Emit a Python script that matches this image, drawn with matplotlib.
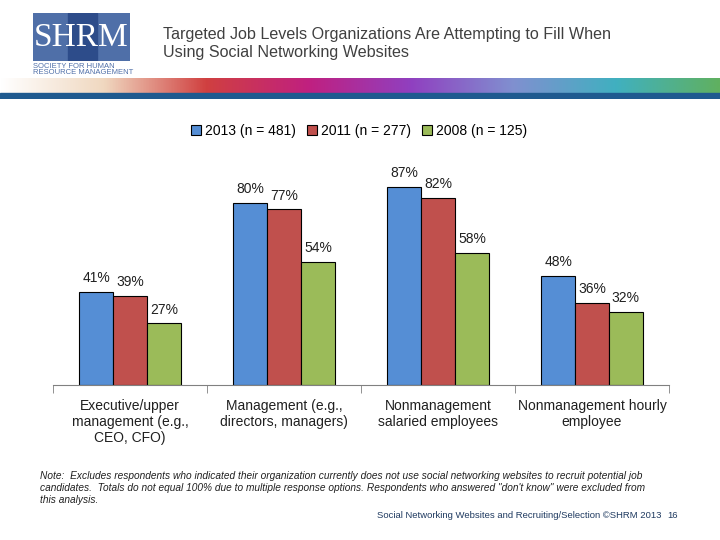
import numpy as np
import matplotlib.pyplot as plt
from matplotlib.patches import Rectangle

plt.rcParams['font.family'] = ['Liberation Sans', 'DejaVu Sans']

categories = ["Executive/upper\nmanagement (e.g.,\nCEO, CFO)",
              "Management (e.g.,\ndirectors, managers)",
              "Nonmanagement\nsalaried employees",
              "Nonmanagement hourly\nemployee"]
series_names = ["2013 (n = 481)", "2011 (n = 277)", "2008 (n = 125)"]
values_2013 = [41, 80, 87, 48]
values_2011 = [39, 77, 82, 36]
values_2008 = [27, 54, 58, 32]
colors = ["#558ED5", "#C0504D", "#9BBB59"]

fig = plt.figure(figsize=(7.2, 5.4), dpi=100)
fig.patch.set_facecolor("white")

# header: logo, title, colour band
logo = fig.add_axes([33/720, 1-61/540, 97/720, 48/540])
logo.set_xlim(0, 1); logo.set_ylim(0, 1); logo.axis("off")
logo.add_patch(Rectangle((0, 0), 1, 1, color="#4F6FA8"))
logo.add_patch(Rectangle((0.36, 0), 0.3, 1, color="#2D4C8A"))
logo.text(0.5, 0.48, "SHRM", color="white", ha="center", va="center",
          fontsize=24, family="Liberation Serif")
fig.text(33/720, 1-66/540, "SOCIETY FOR HUMAN", fontsize=5.5, color="#4F6FA8", va="center")
fig.text(33/720, 1-73/540, "RESOURCE MANAGEMENT", fontsize=5.5, color="#4F6FA8", va="center")
fig.text(163/720, 1-34/540, "Targeted Job Levels Organizations Are Attempting to Fill When",
         fontsize=11.6, color="#404040", va="center")
fig.text(163/720, 1-53/540, "Using Social Networking Websites",
         fontsize=11.6, color="#404040", va="center")

band = fig.add_axes([0, 1-99/540, 1, 21/540])
band.axis("off")
grad = np.linspace(0, 1, 256)
cmap = plt.matplotlib.colors.LinearSegmentedColormap.from_list(
    "band", ["#FFFFFF", "#F0D8C0", "#D04040", "#C02080", "#9040C0", "#8090D0", "#40B0C0", "#60B060"])
band.imshow(grad[None, :], aspect="auto", cmap=cmap, extent=[0, 1, 0.3, 1])
band.add_patch(Rectangle((0, 0), 1, 0.3, color="#1F5A8F"))
band.set_xlim(0, 1); band.set_ylim(0, 1)

# chart
ax = fig.add_axes([53/720, 1-385/540, 616/720, 228/540])
x = np.arange(len(categories))
w = 0.22
for i, (vals, name) in enumerate(zip([values_2013, values_2011, values_2008], series_names)):
    pos = x + (i - 1) * w
    ax.bar(pos, vals, w, color=colors[i], edgecolor="black", linewidth=0.8, label=name)
    for p, v in zip(pos, vals):
        ax.text(p, v + 3, f"{v}%", ha="center", va="bottom", fontsize=10, color="#202020")

ax.set_xlim(-0.5, 3.5)
ax.set_ylim(0, 100)
ax.set_yticks([])
for s in ["top", "right", "left"]:
    ax.spines[s].set_visible(False)
ax.spines["bottom"].set_color("#808080")
ax.set_xticks(np.arange(-0.5, 4, 1), minor=True)
ax.tick_params(axis="x", which="minor", length=6, color="#808080")
ax.tick_params(axis="x", which="major", length=0, pad=10)
ax.set_xticks(x)
ax.set_xticklabels(categories, fontsize=10, color="#202020")

ax.legend(loc="center", bbox_to_anchor=(306/616, 1 + 26/228), ncol=3, frameon=False,
          fontsize=10, handlelength=0.7, handleheight=0.7, columnspacing=0.8, handletextpad=0.3)

note = ("Note:  Excludes respondents who indicated their organization currently does not use social networking websites to recruit potential job\n"
        "candidates.  Totals do not equal 100% due to multiple response options. Respondents who answered \"don't know\" were excluded from\n"
        "this analysis.")
fig.text(40/720, 1-488/540, note, fontsize=7.3, style="italic", color="#202020",
         va="center", linespacing=1.2)
fig.text(377/720, 1-515/540, "Social Networking Websites and Recruiting/Selection ©SHRM 2013",
         fontsize=6.8, color="#1F3A60", va="center")
fig.text(667/720, 1-515/540, "16", fontsize=6.8, color="#1F3A60", va="center")

fig.savefig("out.png", dpi=100)
